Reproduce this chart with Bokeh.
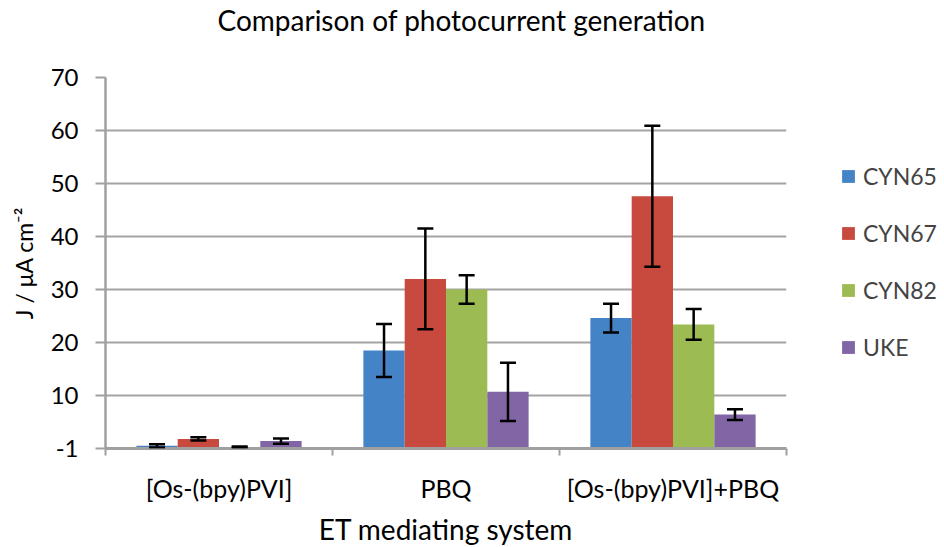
from bokeh.plotting import figure
from bokeh.models import (ColumnDataSource, FixedTicker, Whisker, TeeHead, Legend, LegendItem, Range1d, Title)
from bokeh.embed import file_html
from bokeh.resources import INLINE

# ---- data ----
categories = ["[Os-(bpy)PVI]", "PBQ", "[Os-(bpy)PVI]+PBQ"]
series = ["CYN65", "CYN67", "CYN82", "UKE"]
cyn65 = [0.5, 18.5, 24.6]
cyn67 = [1.8, 32.0, 47.6]
cyn82 = [0.3, 30.0, 23.4]
uke = [1.4, 10.7, 6.4]
cyn65_err = [0.3, 5.0, 2.7]
cyn67_err = [0.3, 9.5, 13.3]
cyn82_err = [0.1, 2.7, 2.9]
uke_err = [0.5, 5.5, 1.0]
y_ticks = [0, 10, 20, 30, 40, 50, 60, 70]
y_tick_labels = ["-1", "10", "20", "30", "40", "50", "60", "70"]
chart_title = "Comparison of photocurrent generation"

values = [cyn65, cyn67, cyn82, uke]
errors = [cyn65_err, cyn67_err, cyn82_err, uke_err]
colors = ["#4484C6", "#C84A3F", "#9CBB53", "#8265A5"]

FONT = "Lato"
bar_w = 0.182

p = figure(frame_width=681, frame_height=371, output_backend="svg", toolbar_location=None,
           x_range=Range1d(0, 3), y_range=Range1d(0, 70),
           min_border_left=105, min_border_top=0, min_border_right=158, min_border_bottom=2)
p.outline_line_color = None
p.background_fill_color = "white"
p.border_fill_color = "white"

items = []
for k, (name, vals, errs, col) in enumerate(zip(series, values, errors, colors)):
    xs = [i + 0.5 + (k - 1.5) * bar_w for i in range(len(categories))]
    src = ColumnDataSource(dict(x=xs, top=vals,
                                lower=[v - e for v, e in zip(vals, errs)],
                                upper=[v + e for v, e in zip(vals, errs)]))
    r = p.vbar(x="x", top="top", bottom=0, width=bar_w, source=src,
               fill_color=col, line_color=None)
    items.append(LegendItem(label=name, renderers=[r]))
    w = Whisker(base="x", lower="lower", upper="upper", source=src, level="overlay",
                line_color="black", line_width=2.5,
                lower_head=TeeHead(size=16, line_color="black", line_width=2.5),
                upper_head=TeeHead(size=16, line_color="black", line_width=2.5))
    p.add_layout(w)

# main title (outermost) and a spacer title between it and the frame
p.title.text = chart_title
p.title.text_font = FONT
p.title.text_font_size = "28px"
p.title.text_font_style = "normal"
p.title.align = "left"
p.title.offset = 112
p.title.standoff = 0
p.title.text_color = "black"
p.add_layout(Title(text=" ", text_font_size="10px", standoff=28), "above")

# y axis
yax = p.yaxis[0]
yax.ticker = FixedTicker(ticks=y_ticks)
yax.major_label_overrides = {t: l for t, l in zip(y_ticks, y_tick_labels)}
yax.minor_tick_line_color = None
yax.major_tick_out = 10
yax.major_tick_in = 0
yax.major_tick_line_color = "#A0A0A0"
yax.major_tick_line_width = 2
yax.axis_line_color = "#A0A0A0"
yax.axis_line_width = 2.5
yax.major_label_text_font = FONT
yax.major_label_text_font_size = "24px"
yax.major_label_text_color = "black"
yax.major_label_standoff = 17
yax.axis_label = "J / μA cm⁻²"
yax.axis_label_text_font = FONT
yax.axis_label_text_font_size = "23px"
yax.axis_label_text_font_style = "normal"
yax.axis_label_text_color = "black"
yax.axis_label_standoff = 10

# x axis
xax = p.xaxis[0]
centers = [i + 0.5 for i in range(len(categories))]
xax.ticker = FixedTicker(ticks=centers, minor_ticks=list(range(len(categories) + 1)))
xax.major_label_overrides = {c: lab for c, lab in zip(centers, categories)}
xax.major_tick_line_color = None
xax.major_tick_out = 6
xax.minor_tick_line_color = "#A0A0A0"
xax.minor_tick_line_width = 2
xax.minor_tick_out = 7
xax.minor_tick_in = 0
xax.axis_line_color = "#A0A0A0"
xax.axis_line_width = 3
xax.major_label_text_font = FONT
xax.major_label_text_font_size = "25px"
xax.major_label_text_color = "black"
xax.major_label_standoff = 17
xax.axis_label = "ET mediating system"
xax.axis_label_text_font = FONT
xax.axis_label_text_font_size = "28px"
xax.axis_label_text_font_style = "normal"
xax.axis_label_text_color = "black"
xax.axis_label_standoff = 6

p.xgrid.grid_line_color = None
p.ygrid.grid_line_color = "#A3A3A3"
p.ygrid.grid_line_width = 2

legend = Legend(items=items, location=(54, 87), border_line_color=None,
                background_fill_alpha=0, padding=10, margin=0,
                glyph_width=16, glyph_height=16, label_standoff=7,
                label_text_font=FONT, label_text_font_size="23px",
                label_height=28, spacing=29)
p.add_layout(legend, "right")

open("out.html", "w").write(file_html(p, INLINE))
